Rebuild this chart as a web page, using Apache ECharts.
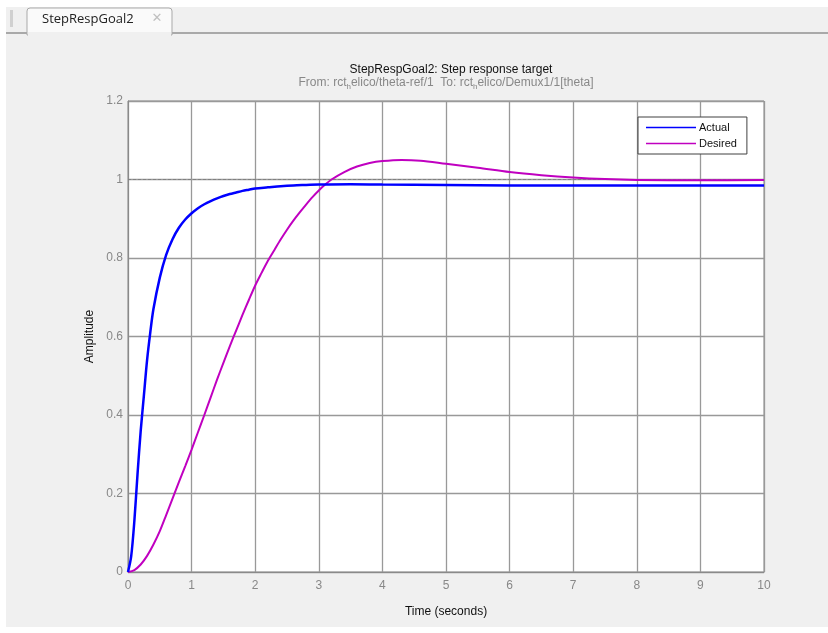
<!DOCTYPE html>
<html>
<head>
<meta charset="utf-8">
<script src="https://cdn.jsdelivr.net/npm/echarts@6/dist/echarts.min.js"></script>
<style>html,body{margin:0;padding:0;background:#fff;}#c{width:828px;height:633px;}</style>
</head>
<body>
<div id="c"></div>
<script>
// ---- data ----
var actualTime = [0,0.05,0.1,0.15,0.2,0.25,0.3,0.35,0.4,0.5,0.6,0.7,0.8,0.9,1.0,1.1,1.2,1.3,1.4,1.5,1.6,1.7,1.8,1.9,2.0,2.2,2.4,2.6,2.8,3.0,3.5,4,5,6,7,8,9,10];
var actualVal  = [0,0.04,0.13,0.25,0.36,0.45,0.54,0.61,0.67,0.75,0.808,0.848,0.877,0.898,0.914,0.927,0.937,0.945,0.952,0.958,0.963,0.967,0.971,0.974,0.977,0.980,0.983,0.985,0.986,0.987,0.988,0.987,0.986,0.985,0.985,0.985,0.985,0.985];
var desiredTime = [0,0.1,0.2,0.3,0.4,0.5,0.6,0.7,0.8,0.9,1.0,1.1,1.2,1.3,1.4,1.5,1.6,1.7,1.8,1.9,2.0,2.1,2.2,2.3,2.4,2.5,2.6,2.7,2.8,2.9,3.0,3.1,3.2,3.4,3.6,3.8,4.0,4.3,4.6,5.0,5.5,6.0,6.5,7.0,7.5,8.0,9.0,10];
var desiredVal  = [0,0.005,0.019,0.041,0.07,0.104,0.145,0.187,0.229,0.27,0.312,0.356,0.4,0.445,0.49,0.533,0.575,0.615,0.655,0.693,0.73,0.762,0.793,0.82,0.847,0.872,0.895,0.916,0.936,0.955,0.972,0.987,1.0,1.019,1.033,1.042,1.047,1.050,1.048,1.040,1.030,1.019,1.011,1.005,1.001,0.999,0.998,0.999];
var refTime = [0, 10];
var refLevel = 1;
var xTicks = [0,1,2,3,4,5,6,7,8,9,10];
var yTicks = [0,0.2,0.4,0.6,0.8,1,1.2];
var seriesNames = ['Actual','Desired'];
var chartTitle = 'StepRespGoal2: Step response target';
var tabLabel = 'StepRespGoal2';

function pairs(t, v){ return t.map(function(x,i){ return [x, v[i]]; }); }

var chart = echarts.init(document.getElementById('c'), null, {renderer:'canvas'});
var sans = 'Liberation Sans, Arial, sans-serif';
var option = {
  animation:false,
  backgroundColor:'#ffffff',
  graphic:[
    {type:'rect', silent:true, z:-10, shape:{x:6,y:7,width:822,height:620}, style:{fill:'#f0f0f0'}},
    {type:'rect', silent:true, z:-9, shape:{x:6,y:32,width:822,height:2}, style:{fill:'#a9a9a9'}},
    {type:'rect', silent:true, z:-8, shape:{x:27,y:8,width:145,height:27,r:[3,3,0,0]}, style:{fill:'#fafafa', stroke:'#a9a9a9', lineWidth:1}},
    {type:'rect', silent:true, z:-7, shape:{x:28,y:31,width:143,height:5}, style:{fill:'#f0f0f0'}},
    {type:'rect', silent:true, z:-7, shape:{x:28,y:26,width:143,height:6}, style:{fill:'#fafafa'}},
    {type:'rect', silent:true, z:-6, shape:{x:10,y:10,width:3,height:17}, style:{fill:'#d0d0d0'}},
    {type:'text', silent:true, style:{x:42, y:19, text:tabLabel, font:'13px "Open Sans", sans-serif', fill:'#222', verticalAlign:'middle'}},
    {type:'text', silent:true, style:{x:157, y:19, text:'✕', font:'bold 13px "DejaVu Sans", sans-serif', fill:'#c0c0c0', align:'center', verticalAlign:'middle'}},
    {type:'text', silent:true, style:{x:446, y:77, align:'center', verticalAlign:'top',
      text:'{a|From: rct}{s|h}{a|elico/theta-ref/1  To: rct}{s|h}{a|elico/Demux1/1[theta]}',
      rich:{a:{fontSize:12, fontFamily:sans, fill:'#888', lineHeight:14, verticalAlign:'top'},
            s:{fontSize:8, fontFamily:sans, fill:'#888', lineHeight:14, verticalAlign:'top', padding:[6,0,0,0]}}}}
  ],
  title:{
    text:chartTitle, left:446, textAlign:'center', top:59,
    textStyle:{fontSize:12, fontWeight:'normal', color:'#111', fontFamily:sans}
  },
  legend:{
    data:seriesNames, orient:'vertical', left:638, top:117,
    width:110, padding:[5,10,5,8],
    backgroundColor:'#fff', borderColor:'#404040', borderWidth:1,
    icon:'rect', itemWidth:50, itemHeight:1.5, itemGap:5,
    textStyle:{fontSize:11, color:'#111', fontFamily:sans, padding:[0,0,0,-2]}
  },
  grid:{left:128, right:64, top:101, bottom:61, show:true, borderColor:'#8a8a8a', borderWidth:1, backgroundColor:'#fff'},
  xAxis:{
    type:'value', min:xTicks[0], max:xTicks[xTicks.length-1], interval:1,
    name:'Time (seconds)', nameLocation:'middle', nameGap:34,
    nameTextStyle:{fontSize:12, color:'#111', fontFamily:sans},
    axisLine:{lineStyle:{color:'#8a8a8a'}}, axisTick:{show:false},
    axisLabel:{color:'#888', fontSize:12, fontFamily:sans, margin:8},
    splitLine:{show:true, lineStyle:{color:'#999', width:1.3}}
  },
  yAxis:{
    type:'value', min:yTicks[0], max:yTicks[yTicks.length-1], interval:0.2,
    name:'Amplitude', nameLocation:'middle', nameGap:32,
    nameTextStyle:{fontSize:12, color:'#111', fontFamily:sans},
    axisLine:{show:true, lineStyle:{color:'#8a8a8a'}}, axisTick:{show:false},
    axisLabel:{color:'#888', fontSize:12, fontFamily:sans, margin:5, formatter:function(v){return String(Math.round(v*10)/10);}},
    splitLine:{show:true, lineStyle:{color:'#999', width:1.3}}
  },
  series:[
    {name:'ref', type:'line', data:pairs(refTime, refTime.map(function(){return refLevel;})), symbol:'none', silent:true,
     lineStyle:{color:'#808080', width:1, type:[3,2]}, z:1},
    {name:seriesNames[0], type:'line', data:pairs(actualTime, actualVal), symbol:'none', smooth:0.3, color:'#0000ff',
     lineStyle:{color:'#0000ff', width:2.5}, z:3},
    {name:seriesNames[1], type:'line', data:pairs(desiredTime, desiredVal), symbol:'none', smooth:0.3, color:'#c000c0',
     lineStyle:{color:'#c000c0', width:2}, z:2}
  ]
};
chart.setOption(option);
</script>
</body>
</html>
